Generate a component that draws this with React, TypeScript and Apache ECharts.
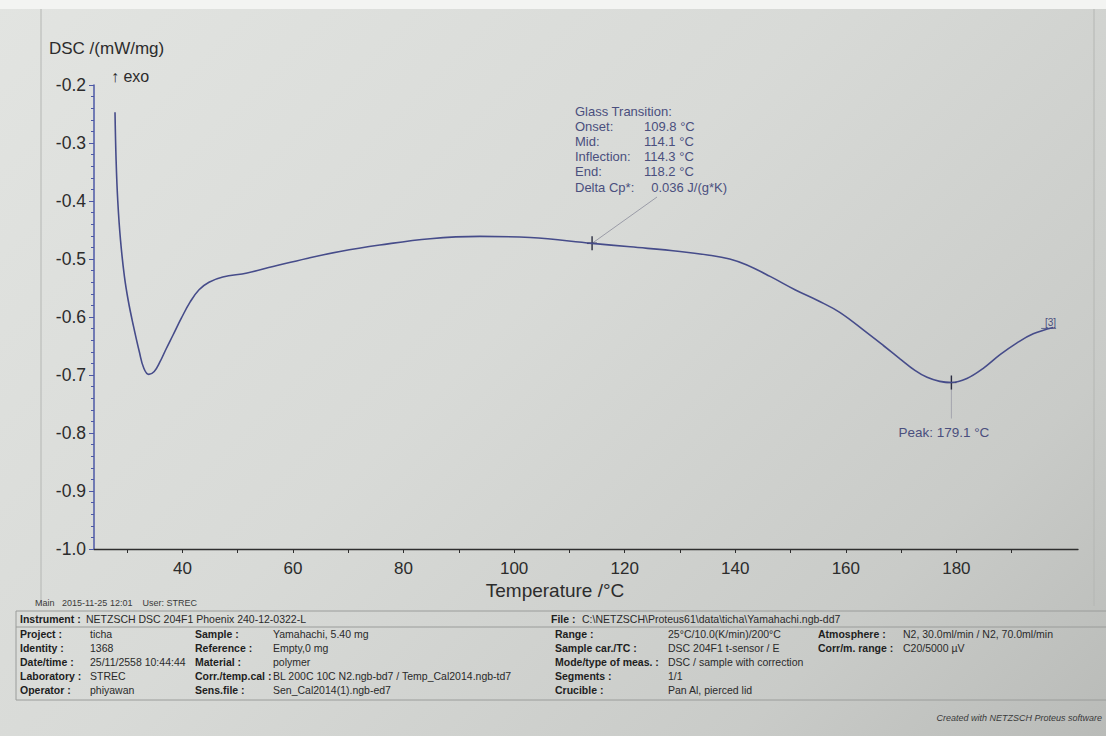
import React, { useEffect, useRef } from "react";
import * as echarts from "echarts";

// ---- data ----
const temperature = [
  27.8, 28.0, 28.3, 28.8, 29.5, 30.2, 31.1, 32.2, 33.0, 33.9, 34.9, 35.9, 37.0, 38.3, 39.8, 41.4,
  43.0, 44.8, 47.3, 51.7, 56.4, 62.5, 68.5, 75.7, 84.8, 93.8, 102.9, 114.1, 121.0, 130.0, 135.0,
  139.0, 142.0, 146.3, 150.8, 155.0, 158.9, 163.8, 166.9, 169.8, 172.5, 174.7, 177.0, 179.1,
  181.9, 184.8, 187.9, 190.9, 193.9, 197.5,
];
const dsc = [
  -0.247, -0.33, -0.4, -0.468, -0.53, -0.572, -0.614, -0.66, -0.688, -0.699, -0.694, -0.678,
  -0.656, -0.631, -0.602, -0.574, -0.553, -0.540, -0.531, -0.524, -0.513, -0.499, -0.487,
  -0.476, -0.465, -0.461, -0.463, -0.473, -0.479, -0.487, -0.493, -0.500, -0.510, -0.530,
  -0.553, -0.572, -0.592, -0.627, -0.650, -0.672, -0.692, -0.704, -0.711, -0.713, -0.706,
  -0.689, -0.665, -0.645, -0.629, -0.618,
];
const xLabelTicks = [40, 60, 80, 100, 120, 140, 160, 180];
const xMinorTicks = [30, 40, 50, 60, 70, 80, 90, 100, 110, 120, 130, 140, 150, 160, 170, 180, 190];

const glassTransition = { mid: 114.1, value: -0.473 };
const glassLines = [
  ["Glass Transition:", ""],
  ["Onset:", "109.8 °C"],
  ["Mid:", "114.1 °C"],
  ["Inflection:", "114.3 °C"],
  ["End:", "118.2 °C"],
  ["Delta Cp*:", "  0.036 J/(g*K)"],
];
const peak = { t: 179.1, value: -0.713, label: "Peak: 179.1 °C" };

const colA = [
  ["Project :", "ticha"],
  ["Identity :", "1368"],
  ["Date/time :", "25/11/2558 10:44:44"],
  ["Laboratory :", "STREC"],
  ["Operator :", "phiyawan"],
];
const colB = [
  ["Sample :", "Yamahachi, 5.40 mg"],
  ["Reference :", "Empty,0 mg"],
  ["Material :", "polymer"],
  ["Corr./temp.cal :", "BL 200C 10C N2.ngb-bd7 / Temp_Cal2014.ngb-td7"],
  ["Sens.file :", "Sen_Cal2014(1).ngb-ed7"],
];
const colC = [
  ["Range :", "25°C/10.0(K/min)/200°C"],
  ["Sample car./TC :", "DSC 204F1 t-sensor / E"],
  ["Mode/type of meas. :", "DSC / sample with correction"],
  ["Segments :", "1/1"],
  ["Crucible :", "Pan Al, pierced lid"],
];
const colD = [
  ["Atmosphere :", "N2, 30.0ml/min / N2, 70.0ml/min"],
  ["Corr/m. range :", "C20/5000 µV"],
];

const FONT = "Liberation Sans, Arial, sans-serif";
const CURVE = "#464c8a";
const ANNOT = "#4a4f7e";

export default function App() {
  const ref = useRef<HTMLDivElement>(null);
  useEffect(() => {
    if (!ref.current) return;
    const chart = echarts.init(ref.current, null, { renderer: "svg" });
    const data = temperature.map((t, i) => [t, dsc[i]]);
    chart.setOption({
      animation: false,
      backgroundColor: "transparent",
      grid: { left: 94, right: 28, top: 85, bottom: 187 },
      xAxis: {
        type: "value",
        min: 24,
        max: 202,
        axisLine: { show: true, onZero: false, lineStyle: { color: "#2e2e2e", width: 1.3 } },
        axisTick: { show: true, customValues: xMinorTicks, length: 4, lineStyle: { color: "#2e2e2e" } },
        axisLabel: {
          customValues: xLabelTicks,
          fontSize: 17,
          color: "#2c2c2c",
          fontFamily: FONT,
          margin: 11,
        },
        splitLine: { show: false },
      },
      yAxis: {
        type: "value",
        min: -1.0,
        max: -0.2,
        interval: 0.1,
        axisLine: { show: true, onZero: false, lineStyle: { color: "#4d58a6", width: 1.5 } },
        axisTick: { show: true, length: 5, lineStyle: { color: "#4d58a6" } },
        minorTick: { show: true, splitNumber: 5, length: 3, lineStyle: { color: "#4d58a6" } },
        axisLabel: {
          fontSize: 17.5,
          color: "#2c2c2c",
          fontFamily: FONT,
          margin: 8,
          formatter: (v: number) => v.toFixed(1),
        },
        splitLine: { show: false },
      },
      series: [
        {
          type: "line",
          data,
          smooth: 0.4,
          showSymbol: false,
          lineStyle: { color: CURVE, width: 1.6 },
        },
      ],
    });

    const pG = chart.convertToPixel({ gridIndex: 0 }, [glassTransition.mid, glassTransition.value]) as number[];
    const pP = chart.convertToPixel({ gridIndex: 0 }, [peak.t, peak.value]) as number[];
    const last = data[data.length - 1];
    const pE = chart.convertToPixel({ gridIndex: 0 }, last) as number[];

    const g: any[] = [];
    const txt = (x: number, y: number, text: string, size: number, opts: any = {}) =>
      g.push({
        type: "text",
        x,
        y,
        silent: true,
        style: {
          text,
          font: `${opts.italic ? "italic " : ""}${opts.weight || "normal"} ${size}px ${FONT}`,
          fill: opts.fill || "#2c2c2c",
          textAlign: opts.align || "left",
          textVerticalAlign: "middle",
        },
      });
    const ln = (x1: number, y1: number, x2: number, y2: number, stroke: string, w = 1) =>
      g.push({ type: "line", silent: true, shape: { x1, y1, x2, y2 }, style: { stroke, lineWidth: w } });

    // paper frame
    g.push({ type: "rect", shape: { x: 0, y: 0, width: 1106, height: 9 }, style: { fill: "#f3f4f2" }, silent: true });
    ln(41, 9, 41, 606, "#b4b6b3", 1);
    ln(1094, 9, 1094, 606, "#b4b6b3", 1);

    // axis titles
    txt(49, 48, "DSC /(mW/mg)", 17);
    txt(111, 76, "↑ exo", 16);
    txt(555, 590, "Temperature /°C", 19, { align: "center" });

    // glass transition annotation
    glassLines.forEach((row, i) => {
      const y = 111 + i * 15.2;
      txt(575, y, row[0], 13, { fill: ANNOT });
      if (row[1]) txt(644, y, row[1], 13, { fill: ANNOT });
    });
    ln(657, 197, pG[0], pG[1], "#8a8c9a", 0.8);
    ln(pG[0], pG[1] - 7, pG[0], pG[1] + 7, "#2a2c40", 1.4);
    ln(pG[0] - 5, pG[1], pG[0] + 5, pG[1], "#2a2c40", 1.4);

    // peak annotation
    ln(pP[0], pP[1] - 7, pP[0], pP[1] + 36, "#9a9ca6", 0.8);
    ln(pP[0], pP[1] - 7, pP[0], pP[1] + 7, "#2a2c40", 1.4);
    ln(pP[0] - 5, pP[1], pP[0] + 5, pP[1], "#2a2c40", 1.2);
    txt(pP[0] - 53, pP[1] + 50, peak.label, 13.5, { fill: ANNOT });

    // segment marker
    txt(pE[0] + 3, pE[1] - 5, "[3]", 10, { fill: ANNOT, align: "right" });
    ln(pE[0] - 12, pE[1] + 1, pE[0] + 3, pE[1] + 1, ANNOT, 0.8);

    // footer
    txt(35, 603, "Main   2015-11-25 12:01    User: STREC", 9, { fill: "#3a3a3a" });

    // table lines
    ln(16, 611, 1106, 611, "#9a9c9a", 1);
    ln(16, 627, 1106, 627, "#9a9c9a", 1);
    ln(16, 700, 1106, 700, "#9a9c9a", 1);
    ln(16, 611, 16, 700, "#9a9c9a", 1);

    const FS = 10.5;
    const bold = { weight: "bold", fill: "#1e1e1e" };
    const norm = { fill: "#2a2a2a" };
    txt(20, 619, "Instrument :", FS, bold);
    txt(86, 619, "NETZSCH DSC 204F1 Phoenix 240-12-0322-L", FS, norm);
    txt(551, 619, "File :", FS, bold);
    txt(582, 619, "C:\\NETZSCH\\Proteus61\\data\\ticha\\Yamahachi.ngb-dd7", FS, norm);
    const rowY = (i: number) => 634 + i * 14.1;
    colA.forEach((r, i) => {
      txt(20, rowY(i), r[0], FS, bold);
      txt(90, rowY(i), r[1], FS, norm);
    });
    colB.forEach((r, i) => {
      txt(195, rowY(i), r[0], FS, bold);
      txt(273, rowY(i), r[1], FS, norm);
    });
    colC.forEach((r, i) => {
      txt(555, rowY(i), r[0], FS, bold);
      txt(668, rowY(i), r[1], FS, norm);
    });
    colD.forEach((r, i) => {
      txt(818, rowY(i), r[0], FS, bold);
      txt(903, rowY(i), r[1], FS, norm);
    });
    txt(1102, 718, "Created with NETZSCH Proteus software", 9, { italic: true, align: "right", fill: "#3a3a3a" });

    chart.setOption({ graphic: g });
    return () => chart.dispose();
  }, []);

  return (
    <div
      ref={ref}
      style={{
        position: "absolute",
        left: 0,
        top: 0,
        width: 1106,
        height: 736,
        background: "linear-gradient(135deg, #e2e4e1 0%, #d8dad7 45%, #c9cbc8 80%, #b9bbb8 100%)",
      }}
    />
  );
}
